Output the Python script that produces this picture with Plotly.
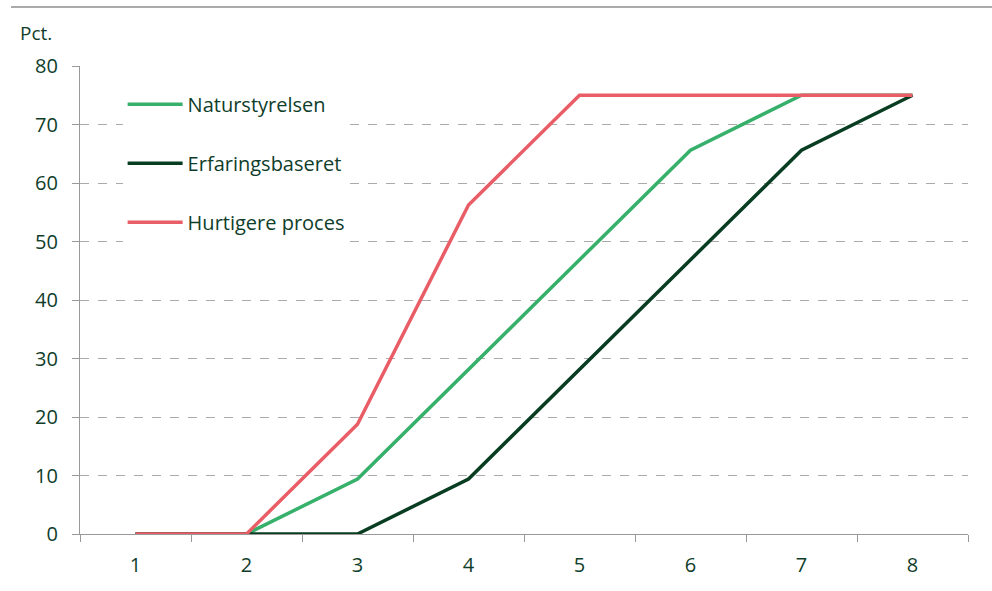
import plotly.graph_objects as go

categories = ["1", "2", "3", "4", "5", "6", "7", "8"]
naturstyrelsen = [0, 0, 9.4, 28.1, 46.9, 65.6, 75, 75]
erfaringsbaseret = [0, 0, 0, 9.4, 28.1, 46.9, 65.6, 75]
hurtigere = [0, 0, 18.75, 56.25, 75, 75, 75, 75]
y_ticks = [0, 10, 20, 30, 40, 50, 60, 70, 80]

TXT = "#0f3d2a"
FONT = "Open Sans"
FS = 20

fig = go.Figure()
series = [
    ("Naturstyrelsen", naturstyrelsen, "#36b06a"),
    ("Erfaringsbaseret", erfaringsbaseret, "#083d22"),
    ("Hurtigere proces", hurtigere, "#e85d66"),
]
for name, vals, col in series:
    fig.add_trace(go.Scatter(x=categories, y=vals, mode="lines", name=name,
                             legendgroup=name,
                             line=dict(color=col, width=3.5)))

fig.update_layout(
    width=992, height=591,
    margin=dict(l=80, r=24, t=66, b=57),
    plot_bgcolor="white", paper_bgcolor="white",
    font=dict(family=FONT, color=TXT, size=FS),
    showlegend=True,
    legend=dict(x=0.048, y=0.96, xanchor="left", yanchor="top",
                bgcolor="white", traceorder="grouped", tracegroupgap=30,
                itemwidth=55, entrywidth=250,
                font=dict(size=FS, color=TXT, family=FONT)),
    xaxis=dict(type="category", range=[-0.5, 7.5], tickson="boundaries",
               ticks="outside", ticklen=7, tickcolor="#999", tickwidth=1.3,
               showline=True, linecolor="#999", linewidth=1.3,
               ticklabelstandoff=13,
               showgrid=False, tickfont=dict(size=FS, color=TXT)),
    yaxis=dict(range=[0, 80], tickvals=y_ticks, ticks="outside", ticklen=7,
               tickcolor="#999", tickwidth=1.3, showline=True, linecolor="#999",
               linewidth=1.3, showgrid=True, gridcolor="#aaaaaa", griddash="dash",
               ticklabelstandoff=10,
               gridwidth=1, zeroline=False, tickfont=dict(size=FS, color=TXT)),
)

fig.add_shape(type="line", xref="paper", yref="paper",
              x0=(11 - 80) / 888, x1=(992 - 80) / 888,
              y0=(534 - 7) / 468, y1=(534 - 7) / 468,
              line=dict(color="#aaaaaa", width=2))
fig.add_annotation(text="Pct.", xref="paper", yref="paper",
                   x=(18 - 80) / 888, y=(534 - 33) / 468, xanchor="left",
                   yanchor="middle", showarrow=False,
                   font=dict(size=FS - 1, color=TXT, family=FONT))

fig.write_html("out.html")
